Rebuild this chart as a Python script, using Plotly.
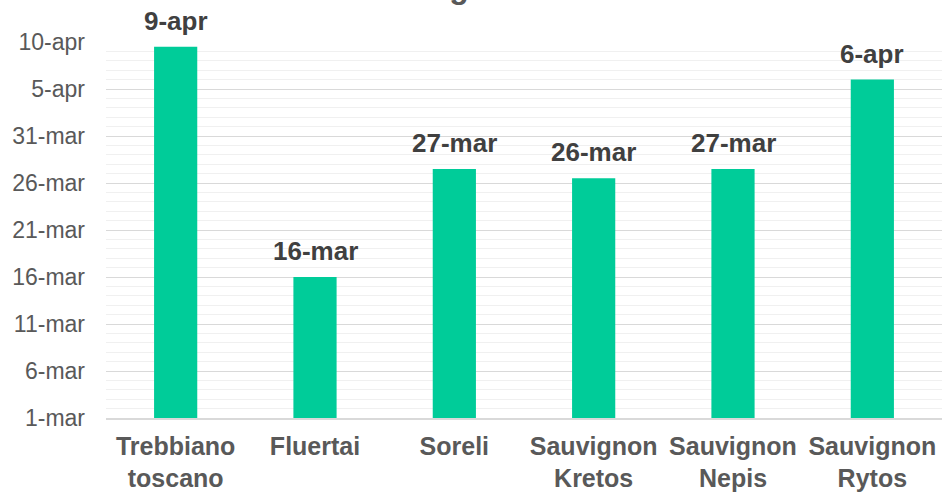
import plotly.graph_objects as go

categories = ["Trebbiano<br>toscano", "Fluertai", "Soreli", "Sauvignon<br>Kretos", "Sauvignon<br>Nepis", "Sauvignon<br>Rytos"]
# days after 1 March
days_after_1mar = [39.5, 15.0, 26.5, 25.5, 26.5, 36.0]
bar_labels = ["9-apr", "16-mar", "27-mar", "26-mar", "27-mar", "6-apr"]
tick_values = [0, 5, 10, 15, 20, 25, 30, 35, 40]
tick_labels = ["1-mar", "6-mar", "11-mar", "16-mar", "21-mar", "26-mar", "31-mar", "5-apr", "10-apr"]
title_text = "Germogliamento"

FONT = "Liberation Sans, Arial, sans-serif"

fig = go.Figure()
fig.add_trace(go.Bar(
    x=categories, y=days_after_1mar,
    marker=dict(color="#00CC99", line=dict(width=0)),
    width=0.31,
    hoverinfo="skip",
    cliponaxis=False,
))

for c, v, t in zip(categories, days_after_1mar, bar_labels):
    fig.add_annotation(x=c, y=v, text="<b>%s</b>" % t, showarrow=False,
                       yanchor="middle", yshift=26,
                       font=dict(family=FONT, size=26, color="#404040"))

fig.add_annotation(xref="paper", yref="paper", x=0.439, y=1.094, text="<b>%s</b>" % title_text,
                   showarrow=False, xanchor="center", yanchor="bottom",
                   font=dict(family=FONT, size=32, color="#595959"))

fig.update_layout(
    width=943, height=494,
    margin=dict(l=106, r=1, t=42, b=76),
    paper_bgcolor="white", plot_bgcolor="white",
    showlegend=False,
    xaxis=dict(
        automargin=False,
        showgrid=False, showline=True, linecolor="#d9d9d9", linewidth=1.5,
        ticks="", tickfont=dict(family=FONT, size=25, color="#595959"),
        tickprefix="<b>", ticksuffix="</b>",
        ticklabelstandoff=5,
    ),
    yaxis=dict(
        automargin=False,
        range=[0, 40], tickvals=tick_values, ticktext=tick_labels,
        showgrid=True, gridcolor="#d9d9d9", gridwidth=1.2,
        zeroline=False, ticks="",
        tickfont=dict(family=FONT, size=23, color="#595959"),
        ticklabelstandoff=20,
        minor=dict(dtick=1, tick0=0, showgrid=True, gridcolor="#f0f0f0", gridwidth=1),
    ),
)

fig.write_html("out.html", config={"displayModeBar": False},
               post_script="document.body.style.margin='0';")
